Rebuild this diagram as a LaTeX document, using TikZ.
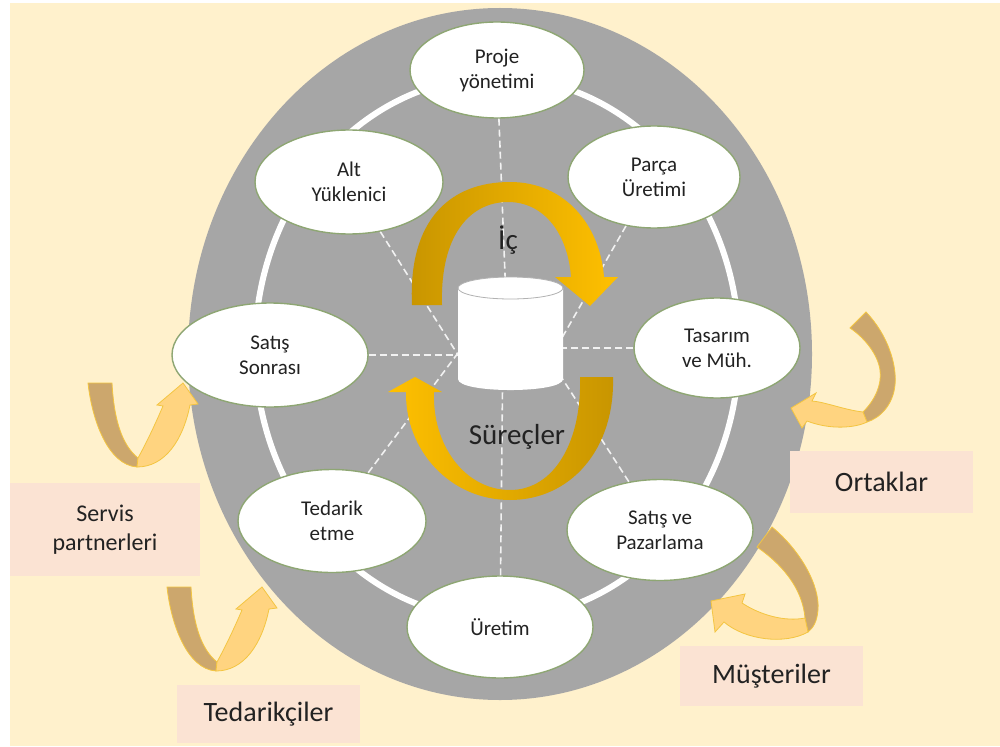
\documentclass[tikz,border=0pt]{standalone}
\usepackage{fontspec}
\setmainfont{Carlito}
\usetikzlibrary{shapes.geometric}

\definecolor{bgyellow}{HTML}{FFF1CC}
\definecolor{wheel}{HTML}{A6A6A6}
\definecolor{rim}{HTML}{8EA673}
\definecolor{tagfill}{HTML}{FBE3D3}
\definecolor{golddark}{HTML}{C89500}
\definecolor{goldlight}{HTML}{FFC000}
\definecolor{armtan}{HTML}{CCA76D}
\definecolor{armpeach}{HTML}{FFD480}
\definecolor{armline}{HTML}{F3C541}
\definecolor{ink}{HTML}{222222}

\begin{document}
\begin{tikzpicture}[x=1pt,y=-1pt,
  unit/.style={ellipse, draw=rim, line width=1.4pt, fill=white, inner sep=0pt,
    align=center, text=ink, font=\fontsize{21}{25}\selectfont},
  tag/.style={fill=tagfill, inner sep=0pt, align=center, text=ink,
    font=\fontsize{28}{34}\selectfont},
  spoke/.style={draw=white!90!gray, dash pattern=on 7pt off 4pt, line width=1.6pt},
  darkarm/.style={fill=armtan, draw=armline, line width=0.8pt},
  lightarm/.style={fill=armpeach, draw=armline, line width=0.8pt},
  biglabel/.style={text=ink, font=\fontsize{29}{34}\selectfont, inner sep=0pt}
]
\useasboundingbox (0,0) rectangle (1000,746);
\fill[white] (0,0) rectangle (1000,746);
\fill[bgyellow] (10,3) rectangle (1000,746);

% grey disc and white track
\fill[wheel] (500,354) ellipse [x radius=312pt, y radius=346pt];
\draw[white, line width=6pt] (497,348) ellipse [x radius=242pt, y radius=271pt];

% partner labels
\node[tag, minimum width=190pt, minimum height=93pt, font=\fontsize{24}{29}\selectfont]
  (servis) at (105,529.5) {Servis\\partnerleri};
\node[tag, minimum width=183pt, minimum height=58pt] (tedarikci) at (268.5,714) {Tedarikçiler};
\node[tag, minimum width=183pt, minimum height=62pt] (ortak) at (881.5,482) {Ortaklar};
\node[tag, minimum width=183pt, minimum height=60pt] (musteri) at (771.5,676) {Müşteriler};

% U-turn arrows on the left
\foreach \dx/\dy in {0/0, 79/204}{
  \begin{scope}[shift={(\dx,\dy)}]
    \path[darkarm] (88,383) -- (112,383) .. controls (114,420) and (122,445) .. (138,458)
      -- (137,467) .. controls (108,465) and (92,420) .. (88,383) -- cycle;
    \path[lightarm] (138,458) .. controls (148,440) and (157,420) .. (163,406)
      -- (157,405) -- (183,383) -- (198,404) -- (190,405)
      .. controls (183,440) and (165,467) .. (137,467) -- cycle;
  \end{scope}
}

% U-turn arrow above Ortaklar
\path[darkarm] (850,328) -- (866,312) .. controls (888,335) and (897,365) .. (895,385)
  .. controls (893,405) and (880,418) .. (867,422) -- (863,412)
  .. controls (875,400) and (882,385) .. (880,370)
  .. controls (878,355) and (865,338) .. (850,328) -- cycle;
\path[lightarm] (863,412) .. controls (845,410) and (825,402) .. (812,401)
  -- (816,393) -- (791,408) -- (802,428) -- (807,421)
  .. controls (830,430) and (855,428) .. (867,422) -- cycle;

% U-turn arrow above Müşteriler
\path[darkarm] (757,547) -- (772,527) .. controls (800,550) and (820,585) .. (818,610)
  .. controls (817,622) and (813,628) .. (808,632) -- (805,618)
  .. controls (803,595) and (790,570) .. (757,547) -- cycle;
\path[lightarm] (805,618) .. controls (785,622) and (760,615) .. (742,603)
  -- (745,594) -- (711,601) -- (715,632) -- (724,622)
  .. controls (745,640) and (785,645) .. (808,632) -- cycle;

% process units
\node[unit, minimum width=174pt, minimum height=96pt]  (proj)    at (497,70)  {Proje\\yönetimi};
\node[unit, minimum width=188pt, minimum height=104pt] (alt)     at (349,182) {Alt\\Yüklenici};
\node[unit, minimum width=172pt, minimum height=102pt] (parca)   at (654,177) {Parça\\Üretimi};
\node[unit, minimum width=196pt, minimum height=104pt] (sonra)   at (270,355) {Satış\\Sonrası};
\node[unit, minimum width=166pt, minimum height=100pt] (tasarim) at (717,348) {Tasarım\\ve Müh.};
\node[unit, minimum width=188pt, minimum height=103pt] (tedarik) at (332,521) {Tedarik\\etme};
\node[unit, minimum width=186pt, minimum height=101pt] (satpaz)  at (660,530) {Satış ve\\Pazarlama};
\node[unit, minimum width=186pt, minimum height=102pt] (uretim)  at (500,627) {Üretim};

% spokes towards the central store
\coordinate (db) at (510.5,333.5);
\coordinate (hProj) at (506,300);
\coordinate (hAlt) at (465,366);
\coordinate (hPar) at (555,350);
\coordinate (hSon) at (480,355);
\coordinate (hTas) at (540,348);
\coordinate (hTed) at (458,353);
\coordinate (hSat) at (558,372);
\coordinate (hUre) at (503,340);
\draw[spoke] (proj) -- (hProj);
\draw[spoke] (alt) -- (hAlt);
\draw[spoke] (parca) -- (hPar);
\draw[spoke] (sonra) -- (hSon);
\draw[spoke] (tasarim) -- (hTas);
\draw[spoke] (tedarik) -- (hTed);
\draw[spoke] (satpaz) -- (hSat);
\draw[spoke] (uretim) -- (hUre);

% central cylinder
\fill[white] (458,288) -- (458,379) .. controls (458,393.7) and (563,393.7) .. (563,379)
  -- (563,288) -- cycle;
\draw[fill=white, draw=gray!60, line width=0.8pt] (db |- 0,288) ellipse [x radius=52.5pt, y radius=11pt];

% circular process arrows
\path[left color=golddark, right color=goldlight]
  (412,305) .. controls (408,220) and (450,182) .. (510,182)
  .. controls (565,182) and (600,225) .. (604,277)
  -- (618,277) -- (590,306) -- (555,277) -- (571,277)
  .. controls (568,235) and (545,202) .. (508,202)
  .. controls (470,202) and (440,235) .. (442,305) -- cycle;
\path[left color=goldlight, right color=golddark]
  (613,377) .. controls (615,450) and (570,500) .. (510,500)
  .. controls (450,500) and (405,450) .. (406,392)
  -- (388,392) -- (415,377) -- (442,392) -- (434,392)
  .. controls (432,445) and (465,490) .. (510,490)
  .. controls (555,490) and (582,440) .. (580,377) -- cycle;

\node[biglabel] (ic) at (508,240) {İç};
\node[biglabel] (surec) at (517,437) {Süreçler};
\end{tikzpicture}
\end{document}
